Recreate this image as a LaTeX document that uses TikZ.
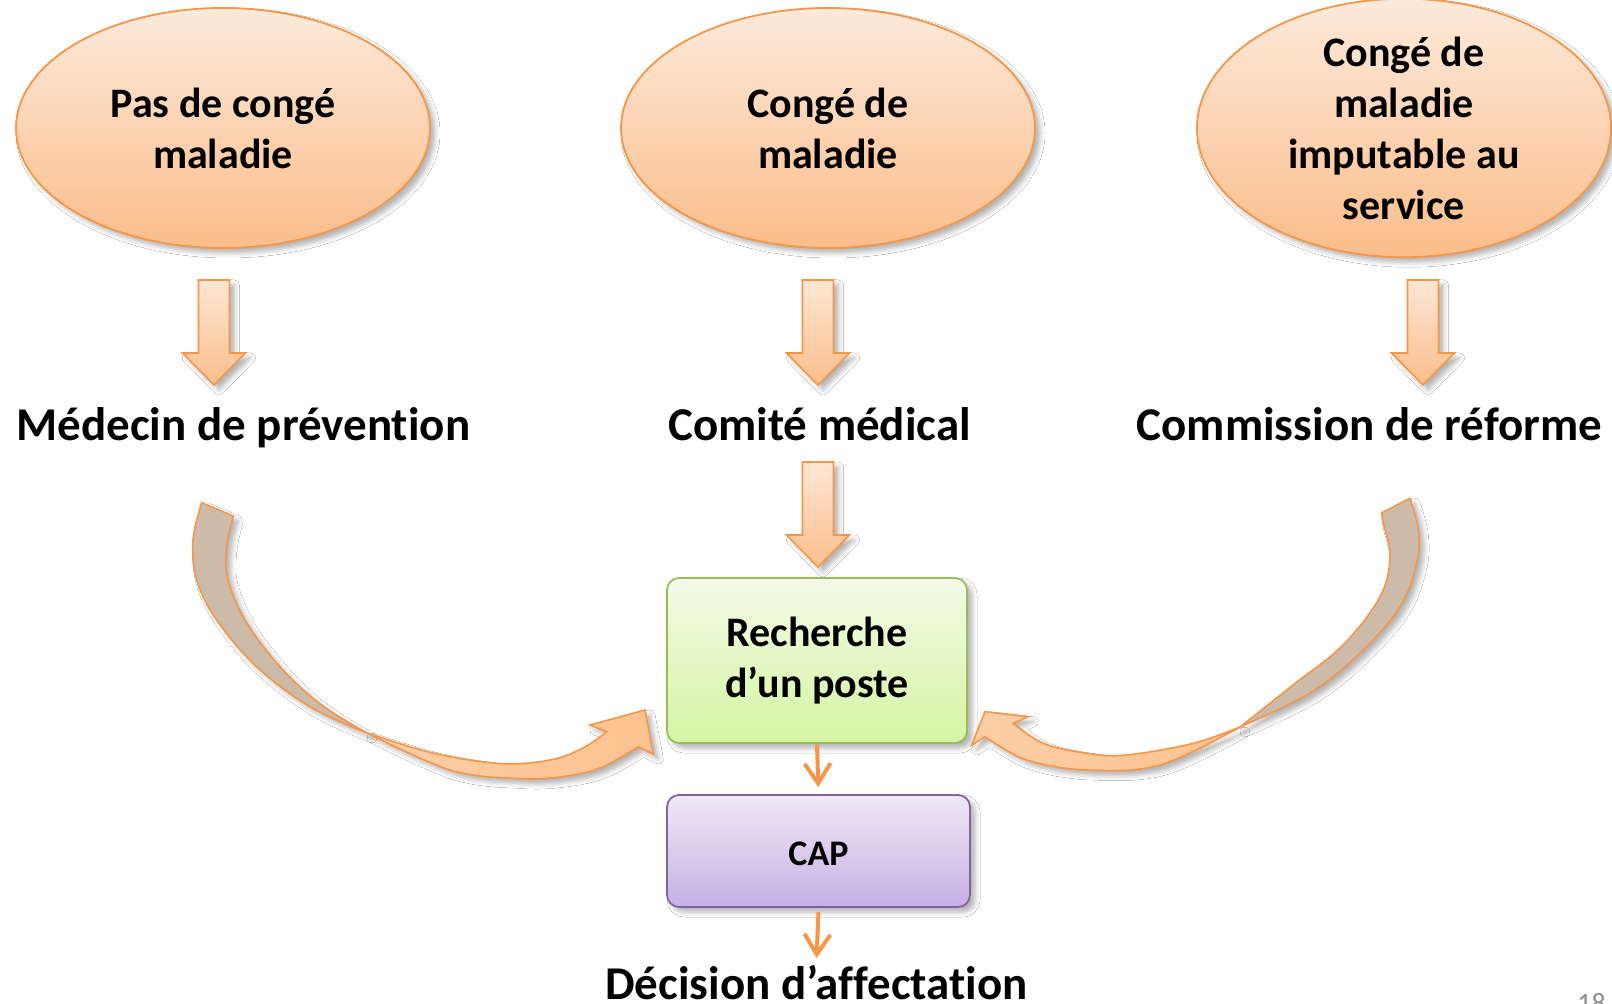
\documentclass[tikz,border=0pt]{standalone}
\usepackage{fontspec}
\setmainfont{Carlito}[RawFeature={-liga;-clig;-calt;-dlig}]
\usetikzlibrary{shapes.geometric,arrows.meta,shadows.blur}

% keep "t" and "i" apart (no joined ti glyph)
\newcommand\tsep{t\kern0pt i}

\definecolor{accent}{HTML}{F79646}
\definecolor{ellTop}{HTML}{FDEADB}
\definecolor{ellBot}{HTML}{FBBD8A}
\definecolor{arrTop}{HTML}{FDE7D5}
\definecolor{arrBot}{HTML}{FBBE8C}
\definecolor{greenLine}{HTML}{9BBB59}
\definecolor{greenTop}{HTML}{F3FAE8}
\definecolor{greenBot}{HTML}{D5F5A3}
\definecolor{purpLine}{HTML}{8064A2}
\definecolor{purpTop}{HTML}{EFE9F7}
\definecolor{purpBot}{HTML}{C6B0E3}
\definecolor{ribbonBack}{HTML}{CDBBAA}
\definecolor{ribbonFront}{HTML}{FCC28F}

\tikzset{
  softshadow/.style={blur shadow={shadow xshift=2.5pt,shadow yshift=-2.5pt,
      shadow blur radius=2.5pt,shadow opacity=30}},
  bubble/.style={ellipse,draw=accent,line width=0.9pt,top color=ellTop,bottom color=ellBot,
      minimum width=207pt,minimum height=120pt,inner sep=0pt,align=center,
      font=\fontsize{21}{25.5}\selectfont\bfseries,softshadow},
  stage/.style={anchor=base,font=\fontsize{23.5}{28}\selectfont\bfseries,inner sep=0pt},
  greenbox/.style={rectangle,rounded corners=6pt,draw=greenLine,line width=0.9pt,
      top color=greenTop,bottom color=greenBot,minimum width=150pt,minimum height=82.5pt,
      align=center,font=\fontsize{21}{25.5}\selectfont\bfseries,softshadow},
  purplebox/.style={rectangle,rounded corners=6pt,draw=purpLine,line width=0.9pt,
      top color=purpTop,bottom color=purpBot,minimum width=151.5pt,minimum height=56pt,
      font=\fontsize{18}{22}\selectfont\bfseries,softshadow},
  barrow/.style={draw=accent,line width=0.8pt,top color=arrTop,bottom color=arrBot,softshadow},
  ribback/.style={draw=accent,line width=0.8pt,fill=ribbonBack,softshadow},
  ribfront/.style={draw=accent,line width=0.8pt,left color=ribbonFront!80!white,right color=ribbonFront,softshadow},
  link/.style={draw=accent,line width=2pt,-{Straight Barb[length=10pt,width=13pt,line width=2pt]}},
  pagenum/.style={font=\fontsize{14}{16}\selectfont,text=black!45,inner sep=0pt},
  % downward block arrow: shaft, then head, length given in pixels
  bdown/.pic={
    \path[barrow] (-15.5,0) -- (15.5,0) -- (15.5,#1-32) -- (31.5,#1-32) -- (0,#1)
      -- (-31.5,#1-32) -- (-15.5,#1-32) -- cycle;
  },
}

\begin{document}
\begin{tikzpicture}[x=0.5pt,y=-0.5pt]
\useasboundingbox (0,0) rectangle (1612,1004);
\fill[white] (0,0) rectangle (1612,1004);

% top row: three situations
\node[bubble] (nosick) at (223,128) {Pas de congé\\maladie};
\node[bubble] (sick)   at (828,128) {Congé de\\maladie};
\node[bubble] (duty)   at (1404,128) {Congé de\\maladie\\imputable au\\service};

% block arrows under the bubbles
\pic at (214,280) {bdown=105};
\pic at (818,280) {bdown=105};
\pic at (1423,280) {bdown=105};
\pic at (818,462) {bdown=105};

% second row: bodies consulted
\node[stage] (doctor)  at (243.5,441) {Médecin de préven\tsep on};
\node[stage] (comite)  at (819.5,441) {Comité médical};
\node[stage] (reforme) at (1369.5,441) {Commission de réforme};

% search and committee
\node[greenbox] (search) at (817,660.5) {Recherche\\d’un poste};
\node[purplebox] (cap) at (818.5,851) {\raisebox{-1.5pt}[\height][\depth]{CAP}};
\node[stage] (decision) at (816.5,999) {Décision d’affecta\tsep on};

% curved ribbon arrow on the left
\path[ribback] plot[smooth,tension=0.6] coordinates {(201.7,502.7) (193,540) (196.7,580) (216.7,620) (256.7,666.7) (310,706.7) (367,733)}
  -- plot[smooth,tension=0.6] coordinates {(367,733) (323,706) (283,670) (246.7,623) (228,580) (226.7,546.7) (233.3,516)} -- cycle;
\path[ribfront] plot[smooth,tension=0.6] coordinates {(367,733) (450,770) (516.7,778.5) (560,777) (600,768) (638.3,746.7)}
  -- (653.3,754) -- (645,710) -- (590,725) -- (606.7,731.7)
  -- plot[smooth,tension=0.6] coordinates {(606.7,731.7) (583,748) (550,760) (500,763.5) (433,753) (367,733)} -- cycle;

% curved ribbon arrow on the right
\path[ribback] plot[smooth,tension=0.6] coordinates {(1410,498.3) (1418.3,530) (1416.7,563) (1400,606.7) (1360,653) (1310,693) (1240,727)}
  -- plot[smooth,tension=0.6] coordinates {(1240,727) (1293,685) (1343,645) (1380,596.7) (1390,556.7) (1383.3,523) (1381.7,512.7)} -- cycle;
\path[ribfront] plot[smooth,tension=0.6] coordinates {(1240,727) (1160,765) (1086.7,770) (1026.7,760) (985,736.7)}
  -- (971.7,745) -- (985,711.7) -- (1028.3,716.7) -- (1013.3,723.3)
  -- plot[smooth,tension=0.6] coordinates {(1013.3,723.3) (1043.3,743.3) (1086.7,753.3) (1126.7,755) (1193.3,743.3) (1240,727)} -- cycle;

% thin connectors
\draw[link,shorten >=3.5pt] (search.south) -- (cap.north);
\draw[link] (cap.south) ++(0,4) coordinate (capout) -- (816.5,958) coordinate (decin);

% slide number
\node[pagenum,anchor=north west] (slideno) at (1577,993) {18};
\end{tikzpicture}
\end{document}
